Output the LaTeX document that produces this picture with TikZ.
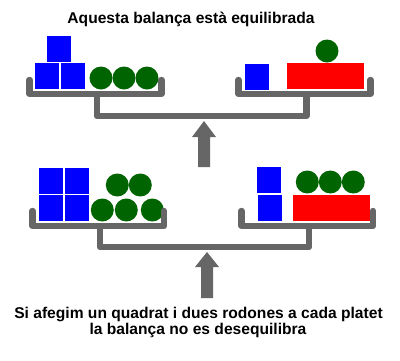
\documentclass[tikz,border=0pt]{standalone}
\usepackage{fontspec}
\setmainfont{Liberation Sans}
\begin{document}
\begin{tikzpicture}[x=1pt,y=-1pt,
  tray/.style={draw=traygray,line width=6.4pt,line cap=round,line join=round},
  sq/.style={fill=blue},
  rd/.style={fill=red},
  ball/.style={fill=dgreen},
  arr/.style={fill=traygray},
  lbl/.style={font=\bfseries\fontsize{15.6}{18}\selectfont,inner sep=0pt,anchor=base}]
\definecolor{traygray}{HTML}{666666}
\definecolor{dgreen}{HTML}{006400}
\useasboundingbox[fill=white] (0,0) rectangle (400,360);
% title
\node[lbl] (title) at (191,23) {Aquesta balança està equilibrada};
% ---- top left pan
\fill[sq] (47,36) rectangle (71,62);
\fill[sq] (35,63) rectangle (59,89);
\fill[sq] (61,63) rectangle (85,89);
\fill[ball] (101,78) circle (11.5);
\fill[ball] (124,78) circle (11.5);
\fill[ball] (147,78) circle (11.5);
\draw[tray] (29.5,80) -- (29.5,94) -- (161.5,94) -- (161.5,80);
% ---- top right pan
\fill[sq] (245,64) rectangle (269,90);
\fill[rd] (287,63) rectangle (364,89);
\fill[ball] (327,51) circle (11.5);
\draw[tray] (238.5,80) -- (238.5,94) -- (370.5,94) -- (370.5,80);
% top beam
\draw[tray] (97,97) -- (97,116) -- (306.5,116) -- (306.5,97);
% top arrow
\fill[arr] (204,121) -- (216,137) -- (210,137) -- (210,167) -- (198,167) -- (198,137) -- (192,137) -- cycle;
% ---- bottom left pan
\fill[sq] (39,168) rectangle (63,194);
\fill[sq] (65,168) rectangle (89,194);
\fill[sq] (39,195) rectangle (63,221);
\fill[sq] (65,195) rectangle (89,221);
\fill[ball] (117.3,185) circle (11.5);
\fill[ball] (140.3,185) circle (11.5);
\fill[ball] (102.3,210) circle (11.5);
\fill[ball] (126.3,210) circle (11.5);
\fill[ball] (152.3,210) circle (11.5);
\draw[tray] (32.5,211) -- (32.5,226) -- (164,226) -- (164,211);
% ---- bottom right pan
\fill[sq] (257,167) rectangle (281,193);
\fill[sq] (258,195) rectangle (282,221);
\fill[rd] (293,195) rectangle (370,221);
\fill[ball] (307.3,182) circle (11.5);
\fill[ball] (330.3,182) circle (11.5);
\fill[ball] (353.3,182) circle (11.5);
\draw[tray] (241.5,211) -- (241.5,226) -- (373,226) -- (373,211);
% bottom beam
\draw[tray] (100,229) -- (100,247) -- (309,247) -- (309,229);
% bottom arrow
\fill[arr] (207,252) -- (219,267) -- (213,267) -- (213,298) -- (201,298) -- (201,267) -- (195,267) -- cycle;
% caption
\node[lbl] (cap1) at (198.5,318) {Si afegim un quadrat i dues rodones a cada platet};
\node[lbl] (cap2) at (198,334) {la balança no es desequilibra};
\end{tikzpicture}
\end{document}
